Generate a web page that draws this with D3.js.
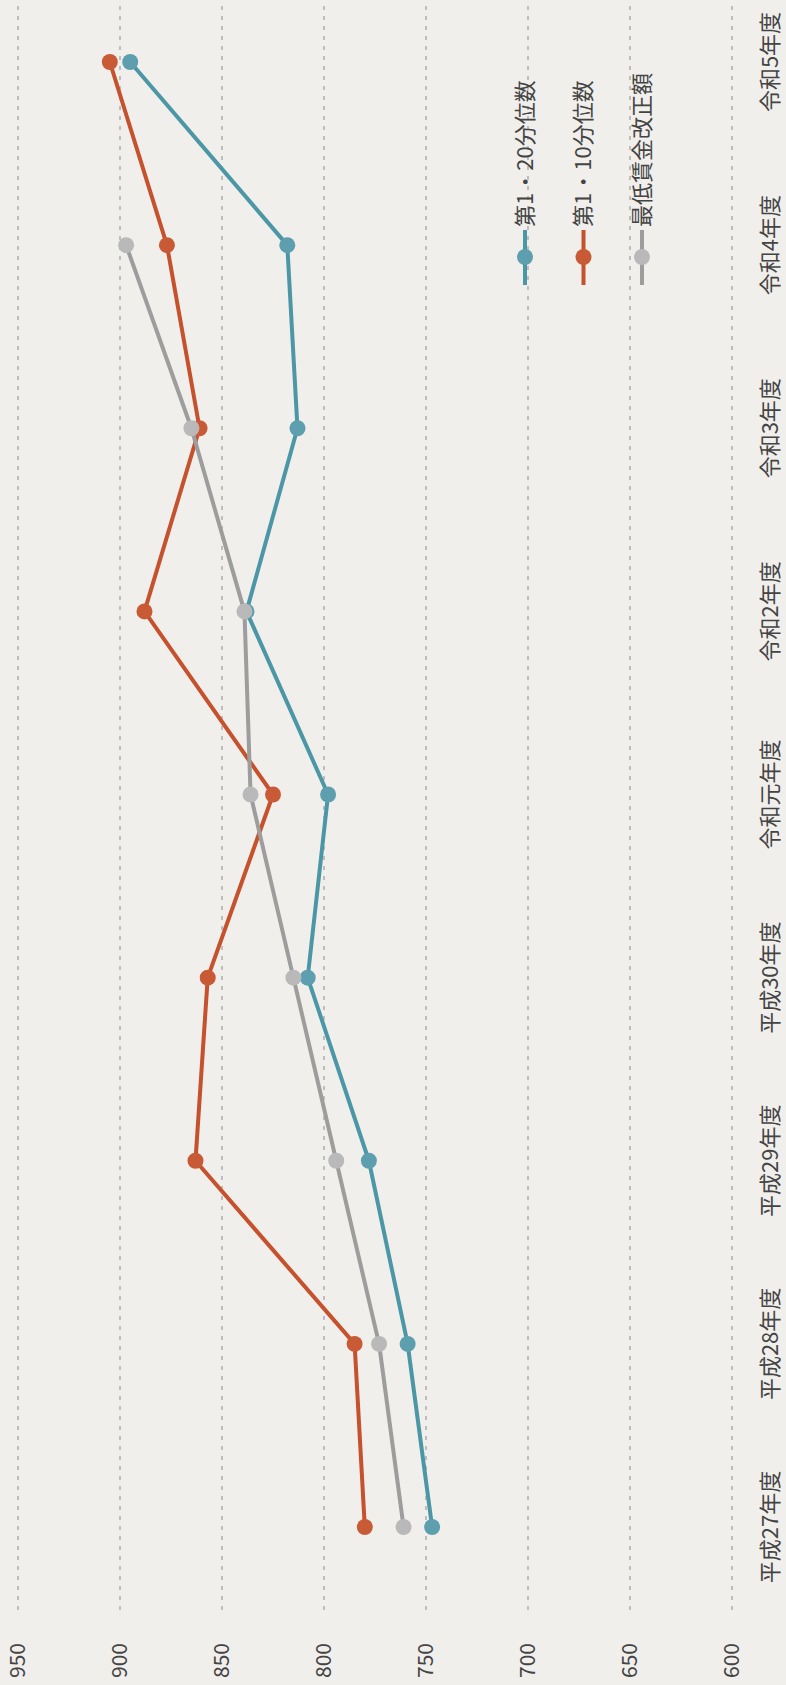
<!DOCTYPE html>
<html>
<head>
<meta charset="utf-8">
<script src="https://cdn.jsdelivr.net/npm/d3@7"></script>
<style>
  body { margin: 0; background: #efeeea; }
  svg { display: block; }
</style>
</head>
<body>
<div id="chart"></div>
<script>
// data
var years = ["平成27年度", "平成28年度", "平成29年度", "平成30年度", "令和元年度",
             "令和2年度", "令和3年度", "令和4年度", "令和5年度"];
var p20 = [747, 759, 778, 808, 798, 838, 813, 818, 895];   // 第1・20分位数
var p10 = [780, 785, 863, 857, 825, 888, 861, 877, 905];   // 第1・10分位数
var minWage = [761, 773, 794, 815, 836, 839, 865, 897, null]; // 最低賃金改正額
var yTicks = [600, 650, 700, 750, 800, 850, 900, 950];

var series = [
  {name: "第1・20分位数", values: p20, line: "#4b97a6", dot: "#5d9fae"},
  {name: "第1・10分位数", values: p10, line: "#c5512d", dot: "#c95a36"},
  {name: "最低賃金改正額", values: minWage, line: "#9d9d9d", dot: "#b9b9b9"}
];

// page is portrait, chart is drawn landscape then turned a quarter left
var pageW = 786, pageH = 1685;
var W = pageH, H = pageW;

var svg = d3.select("#chart")
  .append("svg")
    .attr("width", pageW)
    .attr("height", pageH);

svg.append("rect")
  .attr("width", pageW)
  .attr("height", pageH)
  .attr("fill", "#f0efec");

var g = svg.append("g")
  .attr("transform", "translate(0," + pageH + ") rotate(-90)");

var font = "'Noto Sans CJK JP', 'Noto Sans', sans-serif";

var x = d3.scalePoint()
  .domain(years)
  .range([158, 1623]);

var y = d3.scaleLinear()
  .domain([600, 950])
  .range([732, 18]);

// dashed gridlines
g.append("g")
  .selectAll("line")
  .data(yTicks)
  .enter()
  .append("line")
    .attr("x1", 75)
    .attr("x2", W)
    .attr("y1", function(d) { return y(d); })
    .attr("y2", function(d) { return y(d); })
    .attr("stroke", "#8a8a8a")
    .attr("stroke-width", 1.3)
    .attr("stroke-dasharray", "4,6")
    .attr("opacity", 0.75);

// value labels
g.append("g")
  .selectAll("text")
  .data(yTicks)
  .enter()
  .append("text")
    .attr("x", 42)
    .attr("y", function(d) { return y(d); })
    .attr("dy", "0.35em")
    .attr("text-anchor", "end")
    .style("font-family", font)
    .style("font-size", "21px")
    .style("fill", "#444")
    .text(function(d) { return d; });

// category labels
g.append("g")
  .selectAll("text")
  .data(years)
  .enter()
  .append("text")
    .attr("x", function(d) { return x(d); })
    .attr("y", 770)
    .attr("dy", "0.35em")
    .attr("text-anchor", "middle")
    .style("font-family", font)
    .style("font-size", "22px")
    .style("fill", "#444")
    .text(function(d) { return d; });

// lines and markers
var line = d3.line()
  .defined(function(d) { return d != null; })
  .x(function(d, i) { return x(years[i]); })
  .y(function(d) { return y(d); });

series.forEach(function(s) {
  g.append("path")
    .datum(s.values)
    .attr("d", line)
    .attr("fill", "none")
    .attr("stroke", s.line)
    .attr("stroke-width", 4)
    .attr("stroke-linejoin", "round");

  g.append("g")
    .selectAll("circle")
    .data(s.values.map(function(v, i) { return {v: v, i: i}; })
                  .filter(function(d) { return d.v != null; }))
    .enter()
    .append("circle")
      .attr("cx", function(d) { return x(years[d.i]); })
      .attr("cy", function(d) { return y(d.v); })
      .attr("r", 8)
      .attr("fill", s.dot);
});

// legend
var legend = g.append("g")
  .selectAll("g")
  .data(series)
  .enter()
  .append("g")
    .attr("transform", function(d, i) { return "translate(1400," + (525 + i * 58.5) + ")"; });

legend.append("line")
  .attr("x1", 0).attr("x2", 55)
  .attr("y1", 0).attr("y2", 0)
  .attr("stroke", function(d) { return d.line; })
  .attr("stroke-width", 4);

legend.append("circle")
  .attr("cx", 28).attr("cy", 0)
  .attr("r", 8)
  .attr("fill", function(d) { return d.dot; });

legend.append("text")
  .attr("x", 58)
  .attr("y", 0)
  .attr("dy", "0.35em")
  .style("font-family", font)
  .style("font-size", "22px")
  .style("fill", "#444")
  .text(function(d) { return d.name; });
</script>
</body>
</html>
